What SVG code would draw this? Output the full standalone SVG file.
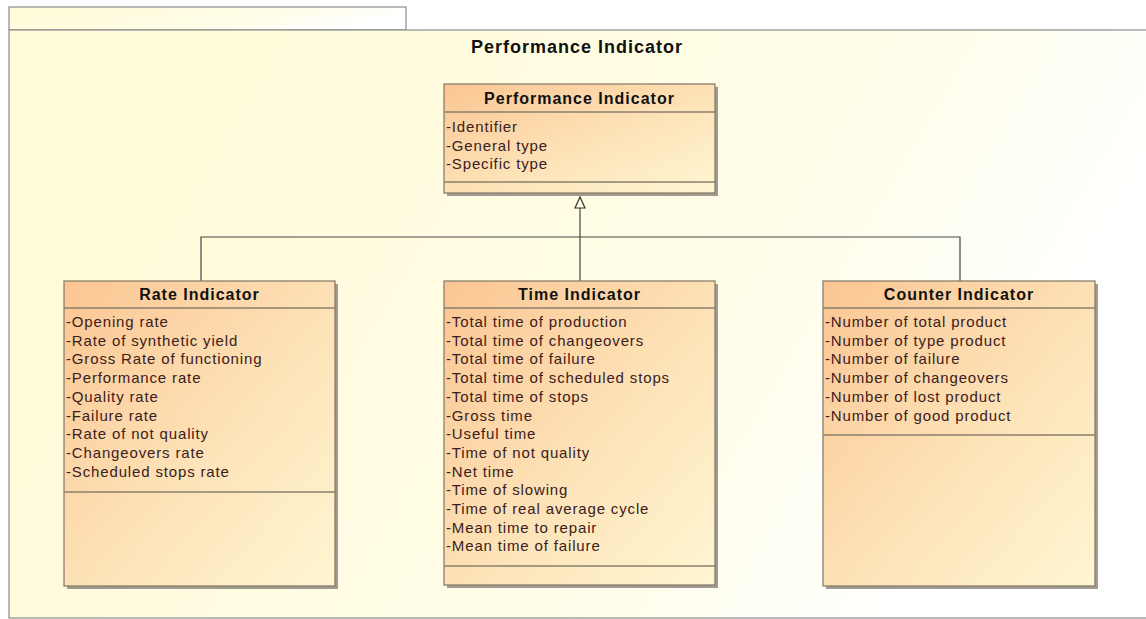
<svg xmlns="http://www.w3.org/2000/svg" width="1146" height="619" viewBox="0 0 1146 619">
<defs>
<linearGradient id="bg" x1="0" y1="0" x2="1" y2="0.3">
<stop offset="0" stop-color="#fffbd6"/>
<stop offset="0.7" stop-color="#fffde8"/>
<stop offset="1" stop-color="#ffffff"/>
</linearGradient>
<linearGradient id="cls" x1="0" y1="0" x2="1" y2="1">
<stop offset="0" stop-color="#fbc592"/>
<stop offset="0.55" stop-color="#fde3b8"/>
<stop offset="1" stop-color="#fff6d2"/>
</linearGradient>
<marker id="gen" markerWidth="14" markerHeight="14" refX="12" refY="6" orient="auto" markerUnits="userSpaceOnUse">
<path d="M12,6 L1,1 L1,11 Z" fill="#fffbe0" stroke="#333" stroke-width="1.2"/>
</marker>
</defs>
<style>
.frame{fill:url(#bg);stroke:#8c8c8c;stroke-width:1.2}
.box{fill:url(#cls);stroke:#8a7f6c;stroke-width:1.3}
.shadow{fill:#8e8a82;opacity:0.85}
.sep{stroke:#8a7f6c;stroke-width:1.3}
.hd{font-family:"Liberation Sans",Arial,sans-serif;font-size:16px;font-weight:bold;fill:#111;text-anchor:middle;letter-spacing:1px}
.at{font-family:"Liberation Sans",Arial,sans-serif;font-size:15px;fill:#3b2020;letter-spacing:0.85px}
.title{font-family:"Liberation Sans",Arial,sans-serif;font-size:18px;font-weight:bold;fill:#111;text-anchor:middle;letter-spacing:1px}
.conn{fill:none;stroke:#444;stroke-width:1.2}
</style>
<rect width="1146" height="619" fill="#ffffff"/>
<g id="package">
<rect class="frame" x="9" y="7" width="397" height="23"/>
<rect class="frame" x="9" y="30" width="1140" height="588"/>
<text class="title" x="577" y="53">Performance Indicator</text>
</g>
<g id="connectors">
<path class="conn" d="M580,281 L580,197" marker-end="url(#gen)"/>
<path class="conn" d="M201,281 L201,237 L960,237 L960,281"/>
</g>
<g id="performance-indicator">
<rect class="shadow" x="447" y="87" width="271" height="109"/>
<rect class="box" x="444" y="84" width="271" height="109"/>
<line class="sep" x1="444" y1="112" x2="715" y2="112"/>
<line class="sep" x1="444" y1="182" x2="715" y2="182"/>
<text class="hd" x="579.5" y="104">Performance Indicator</text>
<text class="at" x="446" y="132">-Identifier</text>
<text class="at" x="446" y="150.5">-General type</text>
<text class="at" x="446" y="169">-Specific type</text>
</g>
<g id="rate-indicator">
<rect class="shadow" x="67" y="284" width="271" height="305"/>
<rect class="box" x="64" y="281" width="271" height="305"/>
<line class="sep" x1="64" y1="308" x2="335" y2="308"/>
<line class="sep" x1="64" y1="492" x2="335" y2="492"/>
<text class="hd" x="199.5" y="300">Rate Indicator</text>
<text class="at" x="66" y="327">-Opening rate</text>
<text class="at" x="66" y="345.7">-Rate of synthetic yield</text>
<text class="at" x="66" y="364.4">-Gross Rate of functioning</text>
<text class="at" x="66" y="383.1">-Performance rate</text>
<text class="at" x="66" y="401.8">-Quality rate</text>
<text class="at" x="66" y="420.5">-Failure rate</text>
<text class="at" x="66" y="439.2">-Rate of not quality</text>
<text class="at" x="66" y="457.9">-Changeovers rate</text>
<text class="at" x="66" y="476.6">-Scheduled stops rate</text>
</g>
<g id="time-indicator">
<rect class="shadow" x="447" y="284" width="271" height="304"/>
<rect class="box" x="444" y="281" width="271" height="304"/>
<line class="sep" x1="444" y1="308" x2="715" y2="308"/>
<line class="sep" x1="444" y1="566" x2="715" y2="566"/>
<text class="hd" x="579.5" y="300">Time Indicator</text>
<text class="at" x="446" y="327">-Total time of production</text>
<text class="at" x="446" y="345.7">-Total time of changeovers</text>
<text class="at" x="446" y="364.4">-Total time of failure</text>
<text class="at" x="446" y="383.1">-Total time of scheduled stops</text>
<text class="at" x="446" y="401.8">-Total time of stops</text>
<text class="at" x="446" y="420.5">-Gross time</text>
<text class="at" x="446" y="439.2">-Useful time</text>
<text class="at" x="446" y="457.9">-Time of not quality</text>
<text class="at" x="446" y="476.6">-Net time</text>
<text class="at" x="446" y="495.3">-Time of slowing</text>
<text class="at" x="446" y="514">-Time of real average cycle</text>
<text class="at" x="446" y="532.7">-Mean time to repair</text>
<text class="at" x="446" y="551.4">-Mean time of failure</text>
</g>
<g id="counter-indicator">
<rect class="shadow" x="826" y="284" width="272" height="305"/>
<rect class="box" x="823" y="281" width="272" height="305"/>
<line class="sep" x1="823" y1="308" x2="1095" y2="308"/>
<line class="sep" x1="823" y1="435" x2="1095" y2="435"/>
<text class="hd" x="959" y="300">Counter Indicator</text>
<text class="at" x="825" y="327">-Number of total product</text>
<text class="at" x="825" y="345.7">-Number of type product</text>
<text class="at" x="825" y="364.4">-Number of failure</text>
<text class="at" x="825" y="383.1">-Number of changeovers</text>
<text class="at" x="825" y="401.8">-Number of lost product</text>
<text class="at" x="825" y="420.5">-Number of good product</text>
</g>
</svg>
